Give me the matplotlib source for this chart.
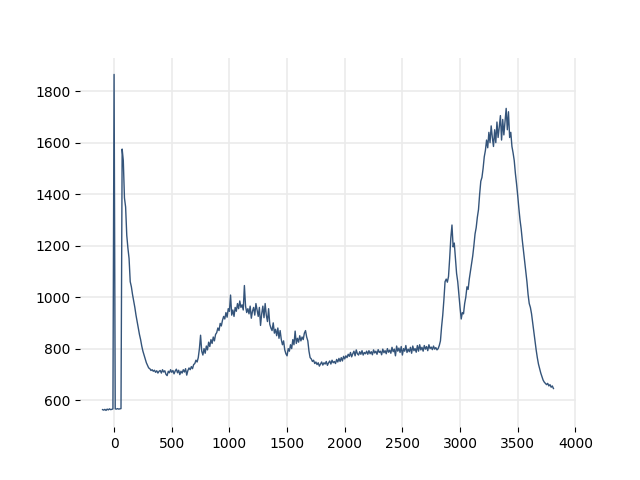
import numpy as np
import matplotlib
matplotlib.use("Agg")
import matplotlib.pyplot as plt

x_start, x_stop, x_step = -100, 3811, 10
x = np.arange(x_start, x_stop, x_step)

y = [
    563, 561, 564, 560, 565, 562, 566, 563, 564, 566,          # -100
    1865, 566, 565, 567, 565, 566, 567, 1575, 1530, 1385,     # 0
    1350, 1240, 1190, 1150, 1060, 1040, 1010, 985, 960, 930,  # 100
    905, 880, 855, 835, 810, 790, 775, 760, 745, 735,         # 200
    725, 722, 715, 718, 712, 716, 708, 714, 705, 712,         # 300
    715, 705, 718, 709, 714, 700, 695, 712, 706, 718,         # 400
    708, 715, 702, 713, 720, 706, 716, 699, 712, 705,         # 500
    718, 709, 722, 697, 715, 725, 718, 730, 722, 738,         # 600
    742, 755, 748, 765, 800, 852, 790, 775, 800, 782,         # 700
    810, 795, 825, 808, 835, 820, 845, 830, 855, 862,         # 800
    880, 870, 898, 888, 910, 925, 915, 940, 922, 955,         # 900
    945, 1008, 930, 950, 925, 960, 945, 975, 955, 985,        # 1000
    960, 970, 950, 1045, 965, 940, 955, 935, 965, 918,        # 1100
    945, 960, 930, 975, 950, 925, 960, 890, 935, 965,         # 1200
    920, 975, 930, 905, 955, 895, 880, 870, 900, 860,         # 1300
    875, 850, 880, 840, 870, 835, 815, 830, 795, 780,         # 1400
    772, 800, 790, 815, 800, 835, 815, 868, 820, 840,         # 1500
    825, 850, 830, 845, 835, 860, 870, 845, 830, 790,         # 1600
    765, 760, 750, 755, 742, 748, 738, 745, 732, 740,         # 1700
    748, 736, 745, 740, 750, 735, 745, 752, 740, 755,         # 1800
    745, 750, 742, 758, 748, 762, 750, 765, 752, 770,         # 1900
    760, 772, 765, 778, 770, 785, 768, 780, 790, 772,         # 2000
    795, 780, 775, 788, 778, 792, 775, 785, 780, 790,         # 2100
    778, 792, 780, 788, 776, 795, 783, 790, 778, 796,         # 2200
    785, 790, 776, 798, 784, 792, 780, 800, 786, 794,         # 2300
    782, 805, 788, 798, 772, 810, 790, 802, 785, 808,         # 2400
    775, 800, 790, 812, 785, 798, 788, 805, 782, 810,         # 2500
    792, 800, 786, 812, 790, 815, 795, 805, 790, 812,         # 2600
    798, 808, 792, 815, 800, 806, 796, 810, 798, 804,         # 2700
    795, 800, 812, 830, 885, 930, 990, 1060, 1070, 1058,      # 2800
    1080, 1150, 1230, 1280, 1195, 1210, 1150, 1092, 1060, 1010,  # 2900
    960, 915, 940, 935, 975, 1000, 1040, 1030, 1070, 1100,    # 3000
    1130, 1160, 1200, 1245, 1270, 1310, 1340, 1400, 1450, 1465,  # 3100
    1500, 1545, 1570, 1610, 1580, 1640, 1600, 1665, 1620, 1585,  # 3200
    1650, 1600, 1680, 1620, 1660, 1705, 1610, 1690, 1630, 1680,  # 3300
    1733, 1650, 1720, 1620, 1640, 1585, 1560, 1530, 1480, 1440,  # 3400
    1395, 1345, 1300, 1265, 1220, 1180, 1140, 1100, 1060, 1010,  # 3500
    975, 960, 935, 900, 865, 830, 795, 765, 740, 722,         # 3600
    705, 692, 678, 670, 665, 660, 665, 655, 660, 650,         # 3700
    655, 645,                                                 # 3800
]

fig, ax = plt.subplots(figsize=(6.4, 4.8), dpi=100)
ax.plot(x, y, color="#34547a", linewidth=1.0)
ax.grid(True, color="#ebebeb", linewidth=1.2)
ax.set_axisbelow(True)
for s in ax.spines.values():
    s.set_visible(False)
ax.set_xticks([0, 500, 1000, 1500, 2000, 2500, 3000, 3500, 4000])
ax.set_yticks([600, 800, 1000, 1200, 1400, 1600, 1800])
fig.savefig("out.png", dpi=100)
